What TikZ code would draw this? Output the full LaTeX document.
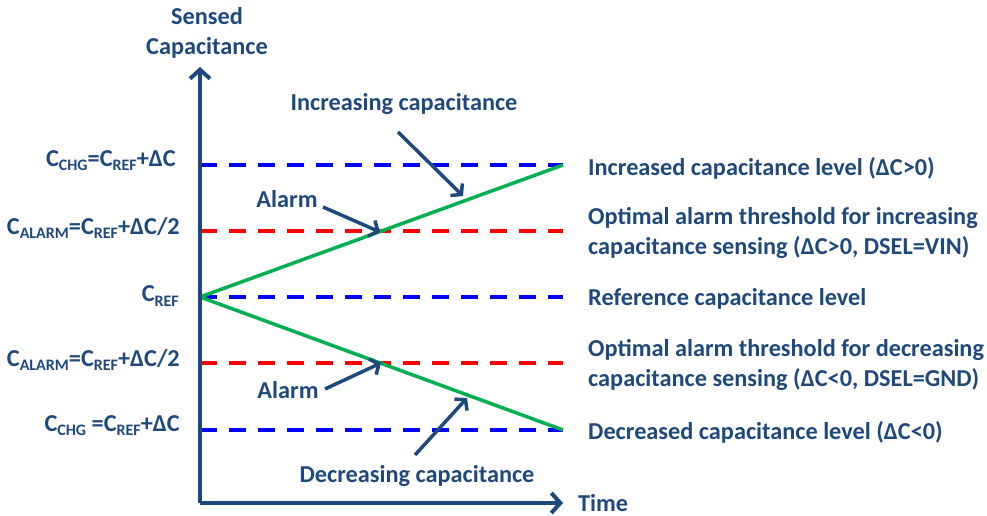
\documentclass[tikz,border=0pt]{standalone}
\usepackage{fontspec}
\setmainfont{Carlito}
\usetikzlibrary{arrows.meta}
\definecolor{txt}{HTML}{1F497D}
\definecolor{dblue}{HTML}{0000FF}
\definecolor{dred}{HTML}{FF0000}
\definecolor{grn}{HTML}{00B050}
\newcommand{\lowsub}[1]{\raisebox{-0.35ex}{\fontsize{16}{16}\selectfont #1}}
\tikzset{
  x=1pt,y=-1pt,
  lbl/.style={text=txt,font=\fontsize{24.3}{30}\selectfont\bfseries,inner sep=0pt},
  axis/.style={draw=txt,line width=4pt,-{Straight Barb[length=9pt,width=20pt,line width=4pt]}},
  ann/.style={draw=txt,line width=3.5pt,-{Straight Barb[length=7pt,width=17pt,line width=3.5pt]}},
  bdash/.style={draw=dblue,line width=4pt,dash pattern=on 17pt off 12pt},
  rdash/.style={draw=dred,line width=4pt,dash pattern=on 17pt off 12pt},
  gline/.style={draw=grn,line width=3.5pt},
}
\begin{document}
\begin{tikzpicture}
\useasboundingbox (0,0) rectangle (987,516);
% coordinates
\coordinate (o) at (200,503);
\coordinate (ytop) at (200,67);
\coordinate (xend) at (563,503);
\coordinate (r) at (200,297);
\coordinate (chgL) at (200,165);
\coordinate (chgR) at (563,165);
\coordinate (a1L) at (200,231);
\coordinate (a1R) at (563,231);
\coordinate (refR) at (563,297);
\coordinate (a2L) at (200,363);
\coordinate (a2R) at (563,363);
\coordinate (lowL) at (200,430);
\coordinate (lowR) at (563,430);
% dashed levels
\draw[bdash] (chgL) -- (chgR);
\draw[rdash] (a1L) -- (a1R);
\draw[bdash] (r) -- (refR);
\draw[rdash] (a2L) -- (a2R);
\draw[bdash] (lowL) -- (lowR);
% green ramps
\draw[gline] (r) -- (chgR);
\draw[gline] (r) -- (lowR);
% axes
\draw[axis] (o) -- (ytop);
\draw[axis] (o) -- (xend);
% axis labels
\node[lbl,align=center] (ylab) at (207,33) {Sensed\\Capacitance};
\node[lbl,anchor=west] (time) at (578,503) {Time};
% left labels
\node[lbl,anchor=east] (l1) at (176,161) {C\lowsub{CHG}=C\lowsub{REF}+ΔC};
\node[lbl,anchor=east] (l2) at (180,228) {C\lowsub{ALARM}=C\lowsub{REF}+ΔC/2};
\node[lbl,anchor=east] (l3) at (179,296) {C\lowsub{REF}};
\node[lbl,anchor=east] (l4) at (180,360) {C\lowsub{ALARM}=C\lowsub{REF}+ΔC/2};
\node[lbl,anchor=east] (l5) at (180,426) {C\lowsub{CHG} =C\lowsub{REF}+ΔC};
% right labels
\node[lbl,anchor=west] (r1) at (588,168) {Increased capacitance level (ΔC>0)};
\node[lbl,anchor=west,align=left] (r2) at (588,233) {Optimal alarm threshold for increasing\\capacitance sensing (ΔC>0, DSEL=VIN)};
\node[lbl,anchor=west] (r3) at (588,299) {Reference capacitance level};
\node[lbl,anchor=west,align=left] (r4) at (588,365) {Optimal alarm threshold for decreasing\\capacitance sensing (ΔC<0, DSEL=GND)};
\node[lbl,anchor=west] (r5) at (588,432) {Decreased capacitance level (ΔC<0)};
% annotations
\node[lbl] (inc) at (404,104) {Increasing capacitance};
\node[lbl] (al1) at (287,199) {Alarm};
\node[lbl] (al2) at (288,390) {Alarm};
\node[lbl] (dec) at (417,476) {Decreasing capacitance};
\coordinate (incS) at (398,132);
\coordinate (incT) at (463,196);
\coordinate (al1S) at (323,207);
\coordinate (al1T) at (380,232);
\coordinate (al2S) at (325,389);
\coordinate (al2T) at (381,363);
\coordinate (decS) at (415,455);
\coordinate (decT) at (467,398);
\draw[ann] (incS) -- (incT);
\draw[ann] (al1S) -- (al1T);
\draw[ann] (al2S) -- (al2T);
\draw[ann] (decS) -- (decT);
\end{tikzpicture}
\end{document}
